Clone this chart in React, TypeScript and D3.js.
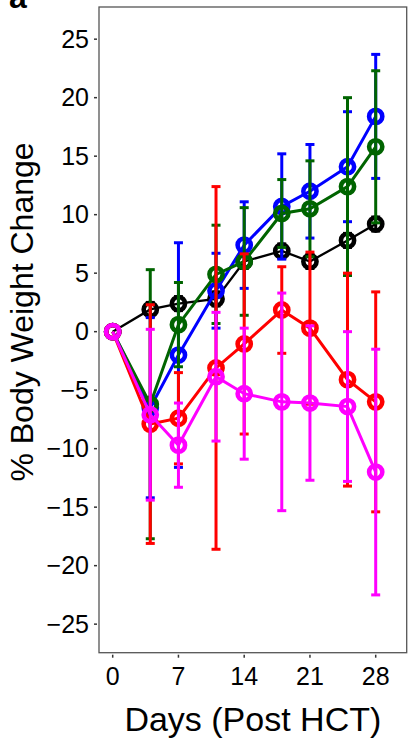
import React from 'react';
import * as d3 from 'd3';

// days post HCT
const days = [0, 4, 7, 11, 14, 18, 21, 25, 28];

const blackMean = [0, 1.9, 2.4, 2.8, 6.0, 6.9, 6.0, 7.8, 9.2];
const blackErr = [0, 0.6, 0.6, 0.6, 0.6, 0.6, 0.6, 0.6, 0.6];
const blueMean = [0, -6.5, -2.0, 3.5, 7.4, 10.7, 12.0, 14.1, 18.4];
const blueErr = [0, 7.7, 9.6, 3.2, 3.7, 4.5, 4.0, 4.7, 5.3];
const greenMean = [0, -6.2, 0.6, 4.9, 6.0, 10.1, 10.5, 12.4, 15.8];
const greenErr = [0, 11.5, 3.6, 4.2, 4.6, 2.9, 4.1, 7.6, 6.5];
const redMean = [0, -7.9, -7.4, -3.1, -1.05, 1.85, 0.3, -4.1, -6.0];
const redErr = [0, 10.2, 3.9, 15.5, 7.7, 3.7, 6.5, 9.1, 9.4];
const magentaMean = [0, -7.1, -9.7, -3.85, -5.3, -6.0, -6.1, -6.4, -12.0];
const magentaErr = [0, 7.3, 3.6, 5.5, 5.6, 9.3, 6.6, 6.4, 10.5];

const xTicks = [0, 7, 14, 21, 28];
const yTicks = [-25, -20, -15, -10, -5, 0, 5, 10, 15, 20, 25];

const series = [
  { color: '#000000', mean: blackMean, err: blackErr, lw: 2.3 },
  { color: '#0000ff', mean: blueMean, err: blueErr, lw: 3 },
  { color: '#006400', mean: greenMean, err: greenErr, lw: 3 },
  { color: '#ff0000', mean: redMean, err: redErr, lw: 3 },
  { color: '#ff00ff', mean: magentaMean, err: magentaErr, lw: 3 },
];

const width = 410;
const height = 739;
const panel = { left: 99, right: 406.7, top: 7, bottom: 652.7 };
const font = '"Liberation Sans", Arial, Helvetica, sans-serif';

const x = d3.scaleLinear().domain([-1.458, 31.3]).range([panel.left, panel.right]);
const y = d3.scaleLinear().domain([-27.44, 27.75]).range([panel.bottom, panel.top]);
const fmt = d3.format('d');

const App = () => {
  const line = d3.line<number>()
    .x((d, i) => x(days[i]))
    .y(d => y(d));
  const capW = 4.5;

  return (
    <svg width={width} height={height} style={{ position: 'absolute', left: 0, top: 0, background: '#fff' }}>
      <rect x={0} y={0} width={width} height={height} fill="#fff" />
      <text x={9} y={8} fontFamily={font} fontWeight="bold" fontSize={32}>a</text>

      {/* series: line, error bars, points */}
      {series.map((s, si) => (
        <g key={si}>
          <path d={line(s.mean) || ''} fill="none" stroke={s.color} strokeWidth={s.lw} />
          {days.map((d, i) => s.err[i] > 0 ? (
            <g key={i} stroke={s.color} strokeWidth={3}>
              <line x1={x(d)} x2={x(d)} y1={y(s.mean[i] + s.err[i])} y2={y(s.mean[i] - s.err[i])} />
              <line x1={x(d) - capW} x2={x(d) + capW} y1={y(s.mean[i] + s.err[i])} y2={y(s.mean[i] + s.err[i])} />
              <line x1={x(d) - capW} x2={x(d) + capW} y1={y(s.mean[i] - s.err[i])} y2={y(s.mean[i] - s.err[i])} />
            </g>
          ) : null)}
          {days.map((d, i) => (
            <circle key={'c' + i} cx={x(d)} cy={y(s.mean[i])} r={6.6} fill="none" stroke={s.color} strokeWidth={4.6} />
          ))}
        </g>
      ))}

      {/* frame */}
      <rect x={panel.left} y={panel.top} width={panel.right - panel.left} height={panel.bottom - panel.top}
        fill="none" stroke="#555" strokeWidth={1.3} />

      {/* y axis */}
      {yTicks.map(t => (
        <g key={t}>
          <line x1={panel.left - 5} x2={panel.left - 2} y1={y(t)} y2={y(t)} stroke="#333" strokeWidth={1.5} />
          <text x={89} y={y(t)} dy="0.35em" textAnchor="end" fontFamily={font} fontSize={25} fill="#000">{fmt(t)}</text>
        </g>
      ))}
      {/* x axis */}
      {xTicks.map(t => (
        <g key={t}>
          <line x1={x(t)} x2={x(t)} y1={panel.bottom + 2} y2={panel.bottom + 5} stroke="#333" strokeWidth={1.5} />
          <text x={x(t)} y={685} textAnchor="middle" fontFamily={font} fontSize={25} fill="#000">{fmt(t)}</text>
        </g>
      ))}

      <text x={(panel.left + panel.right) / 2} y={731} textAnchor="middle" fontFamily={font} fontSize={34} fill="#000">Days (Post HCT)</text>
      <text transform="translate(33,312) rotate(-90)" textAnchor="middle"
        fontFamily={font} fontSize={32} fill="#000">% Body Weight Change</text>
    </svg>
  );
};

export default App;
